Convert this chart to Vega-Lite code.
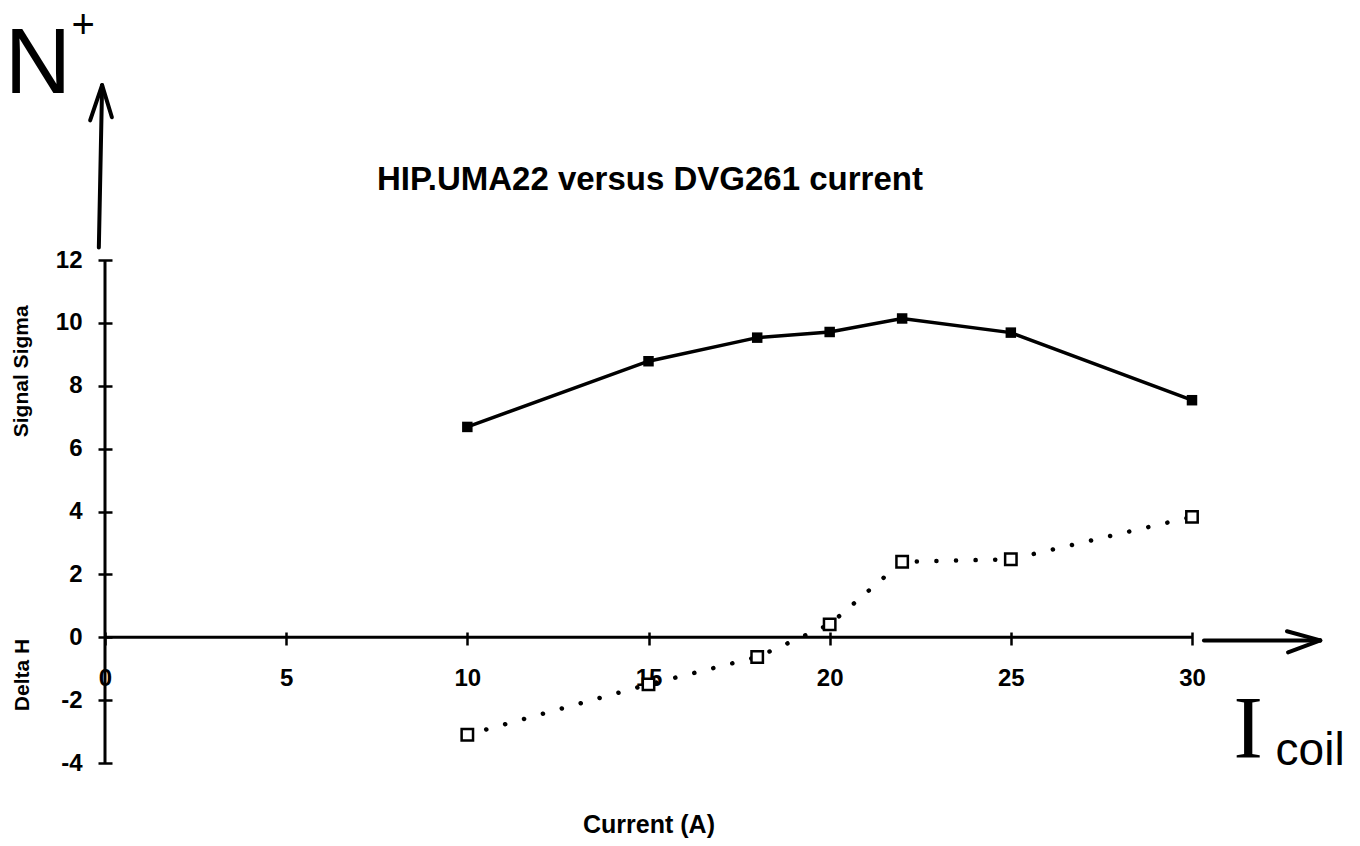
{
  "$schema": "https://vega.github.io/schema/vega-lite/v6.json",
  "width": 1087,
  "height": 503,
  "autosize": {"type": "none"},
  "padding": {"left": 105, "top": 260, "right": 168, "bottom": 83},
  "background": "white",
  "config": {"view": {"stroke": null}},
  "datasets": {
    "series": [
      {"current": 10, "value": 6.69, "series": "Signal Sigma"},
      {"current": 15, "value": 8.78, "series": "Signal Sigma"},
      {"current": 18, "value": 9.53, "series": "Signal Sigma"},
      {"current": 20, "value": 9.71, "series": "Signal Sigma"},
      {"current": 22, "value": 10.14, "series": "Signal Sigma"},
      {"current": 25, "value": 9.69, "series": "Signal Sigma"},
      {"current": 30, "value": 7.54, "series": "Signal Sigma"},
      {"current": 10, "value": -3.1, "series": "Delta H"},
      {"current": 15, "value": -1.5, "series": "Delta H"},
      {"current": 18, "value": -0.63, "series": "Delta H"},
      {"current": 20, "value": 0.41, "series": "Delta H"},
      {"current": 22, "value": 2.4, "series": "Delta H"},
      {"current": 25, "value": 2.48, "series": "Delta H"},
      {"current": 30, "value": 3.83, "series": "Delta H"}
    ],
    "axislines": [
      {"x": 0, "y": -4, "x2": 0, "y2": 12},
      {"x": 0, "y": 0, "x2": 30, "y2": 0}
    ],
    "arrows": [
      {"x": -0.17, "y": 12.4, "x2": -0.08, "y2": 17.56},
      {"x": -0.41, "y": 16.44, "x2": -0.08, "y2": 17.56},
      {"x": 0.19, "y": 16.54, "x2": -0.08, "y2": 17.56},
      {"x": 30.33, "y": -0.1, "x2": 33.54, "y2": -0.1},
      {"x": 32.62, "y": 0.19, "x2": 33.54, "y2": -0.1},
      {"x": 32.65, "y": -0.48, "x2": 33.54, "y2": -0.1}
    ]
  },
  "layer": [
    {
      "data": {"name": "axislines"},
      "mark": {"type": "rule", "strokeWidth": 3, "color": "black", "clip": false},
      "encoding": {
        "x": {"field": "x", "type": "quantitative", "scale": {"domain": [0, 30], "nice": false, "zero": false},
          "axis": {"orient": "bottom", "offset": -131, "domain": false, "values": [0, 5, 10, 15, 20, 25, 30],
            "tickSize": 13, "tickWidth": 2.5, "tickColor": "black", "grid": false, "labelFlush": false, "labelOverlap": false,
            "labelFont": "Liberation Sans", "labelFontWeight": "bold", "labelFontSize": 24, "labelColor": "black", "labelPadding": 21,
            "labelExpr": "'' + datum.value",
            "title": "Current (A)", "titleFont": "Liberation Sans", "titleFontWeight": "bold", "titleFontSize": 25, "titleColor": "black", "titlePadding": 122}},
        "y": {"field": "y", "type": "quantitative", "scale": {"domain": [-4, 12], "nice": false, "zero": false},
          "axis": {"orient": "left", "offset": -7, "domain": false, "values": [-4, -2, 0, 2, 4, 6, 8, 10, 12],
            "tickSize": 14, "tickWidth": 2.5, "tickColor": "black", "grid": false, "labelFlush": false, "labelOverlap": false,
            "labelFont": "Liberation Sans", "labelFontWeight": "bold", "labelFontSize": 24, "labelColor": "black", "labelPadding": 16,
            "labelExpr": "'' + datum.value", "title": null}},
        "x2": {"field": "x2"},
        "y2": {"field": "y2"}
      }
    },
    {
      "data": {"name": "arrows"},
      "mark": {"type": "rule", "strokeWidth": 4, "color": "black", "strokeCap": "round", "clip": false},
      "encoding": {
        "x": {"field": "x", "type": "quantitative"},
        "y": {"field": "y", "type": "quantitative"},
        "x2": {"field": "x2"},
        "y2": {"field": "y2"}
      }
    },
    {
      "data": {"name": "series"},
      "transform": [{"filter": "datum.series === 'Signal Sigma'"}],
      "mark": {"type": "line", "color": "black", "strokeWidth": 3.5},
      "encoding": {
        "x": {"field": "current", "type": "quantitative"},
        "y": {"field": "value", "type": "quantitative"}
      }
    },
    {
      "data": {"name": "series"},
      "transform": [{"filter": "datum.series === 'Delta H'"}],
      "mark": {"type": "line", "color": "black", "strokeWidth": 4.5, "strokeDash": [0.1, 19.5], "strokeCap": "round"},
      "encoding": {
        "x": {"field": "current", "type": "quantitative"},
        "y": {"field": "value", "type": "quantitative"}
      }
    },
    {
      "data": {"name": "series"},
      "transform": [{"filter": "datum.series === 'Signal Sigma'"}],
      "mark": {"type": "point", "shape": "square", "filled": true, "color": "black", "size": 110, "opacity": 1},
      "encoding": {
        "x": {"field": "current", "type": "quantitative"},
        "y": {"field": "value", "type": "quantitative"}
      }
    },
    {
      "data": {"name": "series"},
      "transform": [{"filter": "datum.series === 'Delta H'"}],
      "mark": {"type": "point", "shape": "square", "filled": false, "fill": "white", "fillOpacity": 1, "stroke": "black", "strokeWidth": 2.5, "size": 130, "opacity": 1},
      "encoding": {
        "x": {"field": "current", "type": "quantitative"},
        "y": {"field": "value", "type": "quantitative"}
      }
    },
    {
      "data": {"values": [{"label": "HIP.UMA22 versus DVG261 current", "x": 15.04, "y": 14.55}]},
      "mark": {"type": "text", "font": "Liberation Sans", "fontWeight": "bold", "fontSize": 33, "color": "black", "align": "center", "baseline": "middle", "clip": false},
      "encoding": {
        "x": {"field": "x", "type": "quantitative"},
        "y": {"field": "y", "type": "quantitative"},
        "text": {"field": "label"}
      }
    },
    {
      "data": {"values": [{"label": "Signal Sigma", "x": -2.29, "y": 8.46}, {"label": "Delta H", "x": -2.25, "y": -1.2}]},
      "mark": {"type": "text", "font": "Liberation Sans", "fontWeight": "bold", "fontSize": 21, "color": "black", "align": "center", "baseline": "middle", "angle": 270, "clip": false},
      "encoding": {
        "x": {"field": "x", "type": "quantitative"},
        "y": {"field": "y", "type": "quantitative"},
        "text": {"field": "label"}
      }
    },
    {
      "data": {"values": [{"label": "N", "x": -1.85, "y": 18.2}]},
      "mark": {"type": "text", "font": "Liberation Sans", "fontWeight": "normal", "fontSize": 92, "color": "black", "align": "center", "baseline": "middle", "clip": false},
      "encoding": {
        "x": {"field": "x", "type": "quantitative"},
        "y": {"field": "y", "type": "quantitative"},
        "text": {"field": "label"}
      }
    },
    {
      "data": {"values": [{"label": "+", "x": -0.6, "y": 19.45}]},
      "mark": {"type": "text", "font": "Liberation Sans", "fontSize": 40, "color": "black", "align": "center", "baseline": "middle", "clip": false},
      "encoding": {
        "x": {"field": "x", "type": "quantitative"},
        "y": {"field": "y", "type": "quantitative"},
        "text": {"field": "label"}
      }
    },
    {
      "data": {"values": [{"label": "I", "x": 31.55, "y": -2.99}]},
      "mark": {"type": "text", "font": "Liberation Serif", "fontSize": 88, "color": "black", "align": "center", "baseline": "middle", "clip": false},
      "encoding": {
        "x": {"field": "x", "type": "quantitative"},
        "y": {"field": "y", "type": "quantitative"},
        "text": {"field": "label"}
      }
    },
    {
      "data": {"values": [{"label": "coil", "x": 33.26, "y": -3.63}]},
      "mark": {"type": "text", "font": "Liberation Sans", "fontSize": 46, "color": "black", "align": "center", "baseline": "middle", "clip": false},
      "encoding": {
        "x": {"field": "x", "type": "quantitative"},
        "y": {"field": "y", "type": "quantitative"},
        "text": {"field": "label"}
      }
    }
  ]
}
